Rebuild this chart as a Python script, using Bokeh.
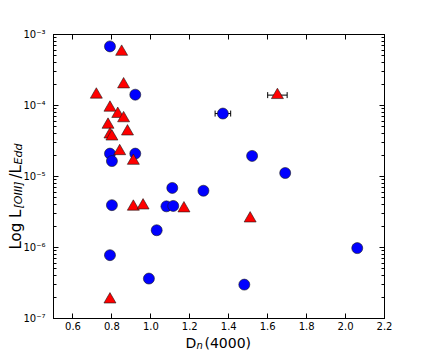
import numpy as np
from bokeh.plotting import figure
from bokeh.models import (Range1d, LinearAxis, LogAxis, FixedTicker, LogTicker,
                          PrintfTickFormatter, CustomJSTickFormatter, Label,
                          ColumnDataSource, Whisker, TeeHead)
from bokeh.embed import file_html
from bokeh.resources import INLINE

# ---- data ----
blue_dn = [0.79, 0.92, 0.79, 0.80, 0.92, 1.37, 1.52, 1.69, 1.27, 2.06, 1.48,
           1.11, 0.80, 1.08, 1.115, 1.03, 0.79, 0.99]
blue_loiii = [6.8e-4, 1.42e-4, 2.1e-5, 1.65e-5, 2.1e-5, 7.7e-5, 1.95e-5, 1.12e-5,
              6.3e-6, 9.8e-7, 3.0e-7, 6.9e-6, 3.95e-6, 3.8e-6, 3.85e-6, 1.75e-6,
              7.8e-7, 3.65e-7]
red_dn = [0.85, 0.86, 0.72, 0.79, 0.83, 0.86, 0.78, 0.88, 0.79, 0.80, 0.84,
          0.91, 0.91, 0.96, 1.17, 1.51, 1.65, 0.79]
red_loiii = [5.7e-4, 1.98e-4, 1.42e-4, 9.3e-5, 7.6e-5, 6.6e-5, 5.35e-5, 4.3e-5,
             3.9e-5, 3.65e-5, 2.27e-5, 1.66e-5, 3.75e-6, 3.9e-6, 3.55e-6, 2.56e-6,
             1.4e-4, 1.85e-7]
err_dn = [1.37, 1.65]
err_loiii = [7.7e-5, 1.4e-4]
err_xerr = [0.04, 0.05]
x_ticks = [0.6, 0.8, 1.0, 1.2, 1.4, 1.6, 1.8, 2.0, 2.2]

FONT = "DejaVu Sans"

p = figure(width=418, height=346, frame_width=331, frame_height=284,
           x_range=Range1d(0.5, 2.2), y_range=Range1d(1e-7, 1e-3),
           y_axis_type="log", output_backend="svg", toolbar_location=None,
           min_border_left=53, min_border_right=34, min_border_top=34,
           min_border_bottom=28)
p.grid.visible = False
p.outline_line_color = "black"
p.background_fill_color = "white"
p.border_fill_color = "white"

xticker = FixedTicker(ticks=x_ticks)
yticker = LogTicker(num_minor_ticks=10)
yfmt = CustomJSTickFormatter(code="""
const sup = {'-':'\u207b','0':'\u2070','1':'\u00b9','2':'\u00b2','3':'\u00b3','4':'\u2074',
             '5':'\u2075','6':'\u2076','7':'\u2077','8':'\u2078','9':'\u2079'};
const e = Math.round(Math.log10(tick));
return '10' + String(e).split('').map(c => sup[c]).join('');
""")

def style_axis(ax, labels):
    ax.axis_line_color = "black"
    ax.major_tick_in = 5
    ax.major_tick_out = 0
    ax.minor_tick_in = 3
    ax.minor_tick_out = 0
    ax.major_tick_line_color = "black"
    ax.minor_tick_line_color = "black"
    ax.major_label_text_font = FONT
    ax.major_label_text_font_size = "10px"
    ax.major_label_text_color = "black"
    if not labels:
        ax.major_label_text_font_size = "0px"
        ax.major_label_text_color = None

xb = p.xaxis[0]
xb.ticker = xticker
xb.formatter = PrintfTickFormatter(format="%.1f")
style_axis(xb, True)
xb.minor_tick_line_color = None
xb.major_label_standoff = 3

yl = p.yaxis[0]
yl.ticker = yticker
yl.formatter = yfmt
style_axis(yl, True)
yl.major_label_standoff = 8

xt = LinearAxis(ticker=xticker)
style_axis(xt, False)
xt.minor_tick_line_color = None
p.add_layout(xt, "above")

yr = LogAxis(ticker=LogTicker(num_minor_ticks=10))
style_axis(yr, False)
p.add_layout(yr, "right")

# error bars
esrc = ColumnDataSource(dict(y=err_loiii,
                             lo=[a - b for a, b in zip(err_dn, err_xerr)],
                             hi=[a + b for a, b in zip(err_dn, err_xerr)]))
wh = Whisker(source=esrc, base="y", lower="lo", upper="hi", dimension="width",
             line_color="black", line_width=1, level="underlay",
             lower_head=TeeHead(size=6, line_color="black", line_width=1),
             upper_head=TeeHead(size=6, line_color="black", line_width=1))
p.add_layout(wh)

p.scatter(blue_dn, blue_loiii, marker="circle", size=11, fill_color="#0000ff",
          line_color="#1a1a1a", line_width=0.6)
p.scatter(red_dn, red_loiii, marker="triangle", size=12, fill_color="#ff0000",
          line_color="#1a1a1a", line_width=0.6)

# axis-title pieces, placed by pixel offsets from the frame's lower-left corner
PX_X = (2.2 - 0.5) / 331.0          # data units per pixel along x
def ypos(px):                        # pixel offset above frame bottom -> log-axis value
    return 10 ** (-7 + px * 4.0 / 284.0)

def lab(text, dx, dy, size, style="normal", angle=0.0):
    p.add_layout(Label(x=0.5 + dx * PX_X, y=ypos(dy), text=text,
                       text_font=FONT, text_font_size=size, text_font_style=style,
                       text_color="black", angle=angle, text_baseline="alphabetic",
                       text_align="left"), "below")

lab("D", 132, -24, "14px")
lab("n", 143, -27, "10px", "italic")
lab("(4000)", 151, -24, "14px")

a = np.pi / 2
bx = -38
lab("Log L", bx, 69, "15px", angle=a)
lab("[OIII]", bx + 3, 110, "11px", "italic", angle=a)
lab("/L", bx, 140, "15px", angle=a)
lab("Edd", bx + 3, 154, "11px", "italic", angle=a)

open("out.html", "w").write(file_html(p, INLINE))
